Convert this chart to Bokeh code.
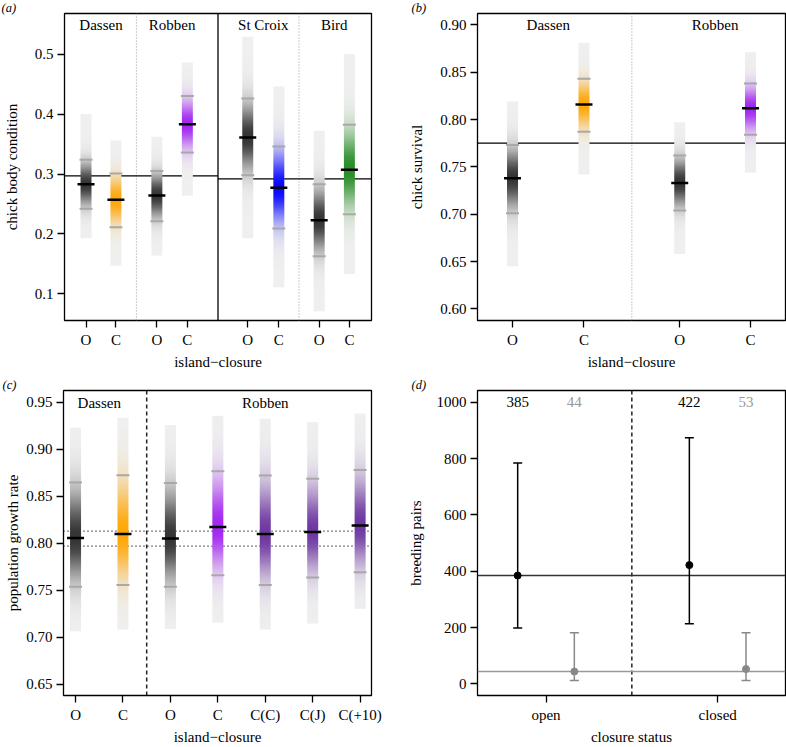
import numpy as np
from bokeh.plotting import figure
from bokeh.models import FixedTicker, Range1d, PrintfTickFormatter
from bokeh.layouts import column, row
from bokeh.embed import file_html
from bokeh.resources import INLINE
from bokeh.core.properties import value

FONT = "Liberation Serif"

# ---------------- data ----------------
# (a) chick body condition
a_islands = ["Dassen", "Robben", "St Croix", "Bird"]
a_ticklabels = ["O", "C", "O", "C", "O", "C", "O", "C"]
a_mean  = [0.283, 0.257, 0.264, 0.383, 0.361, 0.277, 0.223, 0.307]
a_upper = [0.324, 0.301, 0.305, 0.430, 0.426, 0.346, 0.283, 0.382]
a_lower = [0.242, 0.211, 0.221, 0.336, 0.298, 0.209, 0.163, 0.233]
a_high  = [0.400, 0.356, 0.362, 0.486, 0.529, 0.446, 0.372, 0.500]
a_low   = [0.193, 0.147, 0.164, 0.264, 0.193, 0.111, 0.071, 0.133]
a_ref   = [0.297, 0.292]
a_yticks = [0.1, 0.2, 0.3, 0.4, 0.5]

# (b) chick survival
b_islands = ["Dassen", "Robben"]
b_ticklabels = ["O", "C", "O", "C"]
b_mean  = [0.738, 0.816, 0.733, 0.812]
b_upper = [0.773, 0.843, 0.762, 0.838]
b_lower = [0.701, 0.787, 0.704, 0.784]
b_high  = [0.819, 0.881, 0.797, 0.871]
b_low   = [0.645, 0.742, 0.658, 0.744]
b_ref   = 0.775
b_yticks = [0.60, 0.65, 0.70, 0.75, 0.80, 0.85, 0.90]

# (c) population growth rate
c_islands = ["Dassen", "Robben"]
c_ticklabels = ["O", "C", "O", "C", "C(C)", "C(J)", "C(+10)"]
c_mean  = [0.8056, 0.8098, 0.8052, 0.8172, 0.8098, 0.8119, 0.8189]
c_upper = [0.8648, 0.8725, 0.8641, 0.8767, 0.8722, 0.8687, 0.8781]
c_lower = [0.7537, 0.7555, 0.7537, 0.7660, 0.7555, 0.7635, 0.7691]
c_high  = [0.9230, 0.9335, 0.9258, 0.9356, 0.9325, 0.9290, 0.9380]
c_low   = [0.7064, 0.7082, 0.7089, 0.7155, 0.7082, 0.7145, 0.7302]
c_ref   = [0.813, 0.797]
c_yticks = [0.65, 0.70, 0.75, 0.80, 0.85, 0.90, 0.95]

# (d) breeding pairs
d_status = ["open", "closed"]
d_black_mean = [385, 422]
d_black_up   = [785, 874]
d_black_lo   = [199, 214]
d_grey_mean  = [44, 53]
d_grey_up    = [182, 182]
d_grey_lo    = [12, 12]
d_ref = [385, 44]
d_yticks = [0, 200, 400, 600, 800, 1000]

# ---------------- styling / layout ----------------
GREY = "#000000"; ORANGE = "#FFA500"; PURPLE = "#A020F0"; BLUE = "#0000FF"
GREEN = "#228B22"; DPURPLE = "#6A329F"
a_colors = [GREY, ORANGE, GREY, PURPLE, GREY, BLUE, GREY, GREEN]
b_colors = [GREY, ORANGE, GREY, PURPLE]
c_colors = [GREY, ORANGE, GREY, PURPLE, DPURPLE, DPURPLE, DPURPLE]

xa = [72, 172, 309, 411, 613, 717, 852, 953]
xb = [100, 200, 334, 433]
xc = [1, 2, 3, 4, 5, 6, 7]
xd = [1, 2]

FRAME_W = 308
BG = np.array([239, 239, 239], dtype=float)


def hex2rgb(h):
    h = h.lstrip("#")
    return np.array([int(h[i:i + 2], 16) for i in (0, 2, 4)], dtype=float)


def strip(p, x, mean, up, lo, high, low, color, n=400):
    pxw = (p.x_range.end - p.x_range.start) / FRAME_W
    c = hex2rgb(color)
    wmax = 0.78 if color == GREY else 0.97
    ys = np.linspace(low, high, n)
    z = np.where(ys >= mean, (ys - mean) / (up - mean), (mean - ys) / (mean - lo))
    w = wmax * np.exp(-1.6 * z ** 2)
    rgb = BG[None, :] * (1 - w[:, None]) + c[None, :] * w[:, None]
    img = np.empty((n, 2), dtype=np.uint32)
    view = img.view(dtype=np.uint8).reshape((n, 2, 4))
    view[:, :, 0:3] = np.round(rgb).astype(np.uint8)[:, None, :]
    view[:, :, 3] = 255
    p.image_rgba(image=[img], x=x - 5.5 * pxw, y=low, dw=11 * pxw, dh=high - low)
    p.rect(x=[x, x], y=[up, lo], width=13, height=2, width_units="screen",
           height_units="screen", fill_color="#A8A8A8", line_color=None)
    p.rect(x=[x], y=[mean], width=17, height=2.5, width_units="screen",
           height_units="screen", fill_color="black", line_color=None)


def make_fig(xr, yr, w, h, bl, bt, bb, br, tag, tag_dx):
    p = figure(width=w, height=h, x_range=Range1d(*xr), y_range=Range1d(*yr),
               output_backend="svg", toolbar_location=None,
               min_border_left=bl, min_border_top=bt, min_border_bottom=bb, min_border_right=br)
    p.title.text = tag
    p.title.align = "left"
    p.title.offset = tag_dx
    p.title.standoff = -3
    p.title.text_font = FONT
    p.title.text_font_style = "italic"
    p.title.text_font_size = "12.5px"
    p.title.text_color = "black"
    p.outline_line_color = "black"
    p.outline_line_width = 1.3
    p.outline_line_alpha = 1
    p.xgrid.visible = False
    p.ygrid.visible = False
    for ax in (p.xaxis[0], p.yaxis[0]):
        ax.axis_line_color = None
        ax.major_tick_out = 7
        ax.major_tick_in = 0
        ax.major_tick_line_width = 1.3
        ax.major_tick_line_color = "black"
        ax.minor_tick_line_color = None
        ax.major_label_text_font = FONT
        ax.major_label_text_font_size = "15px"
        ax.major_label_text_color = "black"
        ax.axis_label_text_font = FONT
        ax.axis_label_text_font_size = "15px"
        ax.axis_label_text_font_style = "normal"
        ax.axis_label_text_color = "black"
        ax.major_label_standoff = 4
        ax.axis_label_standoff = 3
    return p


def xticks(p, pos, labels):
    p.xaxis.ticker = FixedTicker(ticks=pos)
    p.xaxis.major_label_overrides = {k: v for k, v in zip(pos, labels)}


def names(p, xs, y, txts):
    p.text(x=xs, y=[y] * len(xs), text=txts, text_font=value(FONT), text_font_size="15px",
           text_align="center", text_baseline="middle", text_color="black")


# ---------------- panel (a) ----------------
pa = make_fig((0, 1027), (0.0556, 0.5678), 393, 373, 63, 13, 53, 22, "(a)", -63)
pa.xaxis.axis_label = "island\u2212closure"
pa.yaxis.axis_label = "chick body condition"
pa.yaxis[0].axis_label_standoff = 12
pa.yaxis.ticker = FixedTicker(ticks=a_yticks)
pa.yaxis.formatter = PrintfTickFormatter(format="%.1f")
xticks(pa, xa, a_ticklabels)
mid_a = (pa.x_range.start + pa.x_range.end) / 2
pa.segment(x0=[(xa[1] + xa[2]) / 2, (xa[5] + xa[6]) / 2], x1=[(xa[1] + xa[2]) / 2, (xa[5] + xa[6]) / 2],
           y0=[pa.y_range.start] * 2, y1=[pa.y_range.end] * 2, line_color="#999999",
           line_width=1, line_dash="1 2")
pa.segment(x0=[mid_a], x1=[mid_a], y0=[pa.y_range.start], y1=[pa.y_range.end],
           line_color="black", line_width=1.3)
pa.segment(x0=[pa.x_range.start, mid_a], x1=[mid_a, pa.x_range.end], y0=a_ref, y1=a_ref,
           line_color="black", line_width=1.3)
for i in range(8):
    strip(pa, xa[i], a_mean[i], a_upper[i], a_lower[i], a_high[i], a_low[i], a_colors[i])
names(pa, [(xa[2 * k] + xa[2 * k + 1]) / 2 for k in range(4)], 0.548, a_islands)

# ---------------- panel (b) ----------------
pb = make_fig((51, 482), (0.5877, 0.912), 393, 373, 84, 13, 53, 1, "(b)", -66)
pb.xaxis.axis_label = "island\u2212closure"
pb.yaxis.axis_label = "chick survival"
pb.yaxis[0].axis_label_standoff = 12
pb.yaxis.ticker = FixedTicker(ticks=b_yticks)
pb.yaxis.formatter = PrintfTickFormatter(format="%.2f")
xticks(pb, xb, b_ticklabels)
mid_b = (xb[1] + xb[2]) / 2
pb.segment(x0=[mid_b], x1=[mid_b], y0=[pb.y_range.start], y1=[pb.y_range.end],
           line_color="#999999", line_width=1, line_dash="1 2")
pb.segment(x0=[pb.x_range.start], x1=[pb.x_range.end], y0=[b_ref], y1=[b_ref],
           line_color="black", line_width=1.3)
for i in range(4):
    strip(pb, xb[i], b_mean[i], b_upper[i], b_lower[i], b_high[i], b_low[i], b_colors[i])
names(pb, [(xb[0] + xb[1]) / 2, (xb[2] + xb[3]) / 2], 0.900, b_islands)

# ---------------- panel (c) ----------------
pc = make_fig((0.746, 7.24), (0.638, 0.9626), 393, 374, 63, 17, 48, 22, "(c)", -61)
pc.xaxis.axis_label = "island\u2212closure"
pc.yaxis.axis_label = "population growth rate"
pc.yaxis[0].axis_label_standoff = 2
pc.yaxis.ticker = FixedTicker(ticks=c_yticks)
pc.yaxis.formatter = PrintfTickFormatter(format="%.2f")
xticks(pc, xc, c_ticklabels)
pc.segment(x0=[pc.x_range.start] * 2, x1=[pc.x_range.end] * 2, y0=c_ref, y1=c_ref,
           line_color="black", line_width=1.3, line_dash="1 3")
mid_c = (xc[1] + xc[2]) / 2
pc.segment(x0=[mid_c], x1=[mid_c], y0=[pc.y_range.start], y1=[pc.y_range.end],
           line_color="#222222", line_width=1.5, line_dash="4 3")
for i in range(7):
    strip(pc, xc[i], c_mean[i], c_upper[i], c_lower[i], c_high[i], c_low[i], c_colors[i])
names(pc, [(xc[0] + xc[1]) / 2, (xc[2] + xc[6]) / 2], 0.949, c_islands)

# ---------------- panel (d) ----------------
pd_ = make_fig((0.601, 2.395), (-41, 1042), 393, 374, 84, 17, 48, 1, "(d)", -66)
pd_.xaxis.axis_label = "closure status"
pd_.yaxis.axis_label = "breeding pairs"
pd_.yaxis[0].axis_label_standoff = 10
pd_.yaxis.ticker = FixedTicker(ticks=d_yticks)
pd_.yaxis.formatter = PrintfTickFormatter(format="%d")
xticks(pd_, xd, d_status)
pd_.segment(x0=[1.5], x1=[1.5], y0=[pd_.y_range.start], y1=[pd_.y_range.end],
            line_color="#222222", line_width=1.5, line_dash="4 3")
pd_.segment(x0=[pd_.x_range.start] * 2, x1=[pd_.x_range.end] * 2, y0=d_ref, y1=d_ref,
            line_color=["#333333", "#999999"], line_width=1.5)
off = 0.165
xbk = [x - off for x in xd]
xgr = [x + off for x in xd]
for xs, m, up, lo, col in ((xbk, d_black_mean, d_black_up, d_black_lo, "black"),
                           (xgr, d_grey_mean, d_grey_up, d_grey_lo, "#888888")):
    pd_.segment(x0=xs, x1=xs, y0=lo, y1=up, line_color=col, line_width=1.5)
    pd_.rect(x=xs + xs, y=up + lo, width=9, height=1.5, width_units="screen",
             height_units="screen", fill_color=col, line_color=None)
    pd_.scatter(x=xs, y=m, size=7, fill_color=col, line_color=col)
    pd_.text(x=xs, y=[1000] * 2, text=[str(v) for v in m], text_font=value(FONT),
             text_font_size="15px", text_align="center", text_baseline="middle",
             text_color=col if col == "black" else "#999999")

layout = column(row(pa, pb), row(pc, pd_))
open("out.html", "w").write(file_html(layout, INLINE))
